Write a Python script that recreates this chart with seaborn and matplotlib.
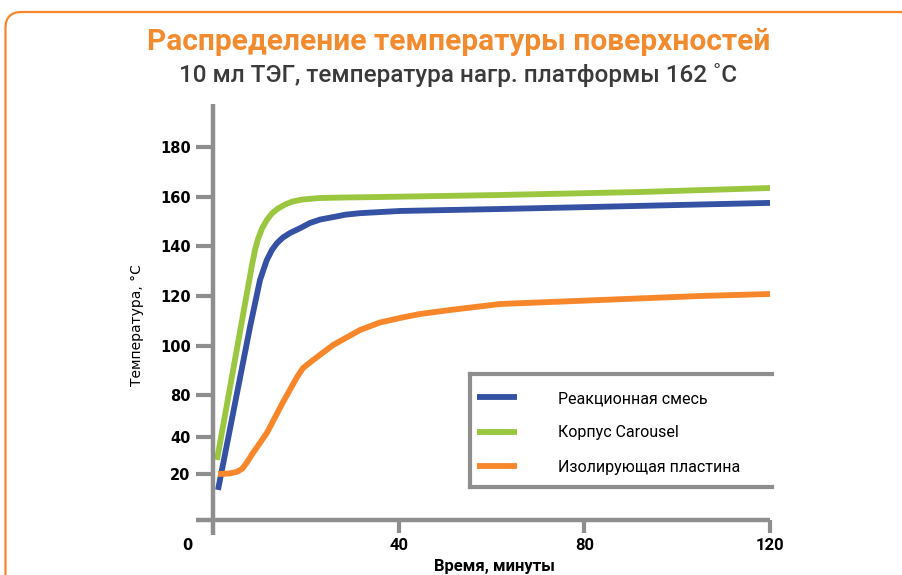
import numpy as np
import pandas as pd
import matplotlib
matplotlib.use("Agg")
import matplotlib.pyplot as plt
import seaborn as sns
from matplotlib.lines import Line2D
from matplotlib.patches import FancyBboxPatch
from matplotlib import transforms as mtransforms

# ---------------- data ----------------
title = "Распределение температуры поверхностей"
subtitle = "10 мл ТЭГ, температура нагр. платформы 162 ˚C"
x_label = "Время, минуты"
y_label = "Температура, °C"

series_names = ["Реакционная смесь", "Корпус Carousel", "Изолирующая пластина"]

blue_t = [0.97, 7.87, 10.03, 10.9, 11.5, 12.6, 13.7, 15.0, 16.5, 18.7, 20.8, 23.0, 25.8,
          28.5, 31.6, 40.2, 61.8, 83.4, 120.0]
blue_temp = [11.4, 107.6, 126.4, 131.2, 134.4, 138.4, 141.2, 143.5, 145.3, 147.3, 149.4, 150.8, 151.8,
             152.8, 153.4, 154.3, 155.1, 156.0, 157.6]

green_t = [0.75, 8.3, 8.95, 9.6, 10.5, 11.5, 12.6, 13.9, 15.4, 17.1, 19.3, 23.0, 28.4,
           35.9, 61.7, 91.9, 120.0]
green_temp = [27.6, 132.4, 138.4, 142.9, 147.3, 150.6, 153.3, 155.3, 156.9, 158.2, 159.0, 159.6, 159.8,
              160.0, 160.8, 162.0, 163.6]

orange_t = [0.97, 3.5, 5.1, 6.2, 7.2, 8.3, 11.5, 15.0, 18.0, 19.3, 21.5, 25.8, 31.6, 35.9, 40.2, 44.5,
            51.0, 61.8, 83.4, 104.9, 120.0]
orange_temp = [20.0, 20.3, 21.2, 22.9, 26.2, 30.6, 43.8, 73.3, 87.3, 91.0, 94.3, 100.4, 106.4, 109.4,
               111.2, 112.8, 114.4, 116.8, 118.4, 120.0, 120.8]

x_ticks = [0, 40, 80, 120]
x_tick_labels = ["0", "40", "80", "120"]
y_ticks = [20, 40, 80, 100, 120, 140, 160, 180]
y_tick_labels = ["20", "40", "80", "100", "120", "140", "160", "180"]

# ---------------- style ----------------
C_BLUE = "#3451A3"
C_GREEN = "#9AC73F"
C_ORANGE = "#F7872A"
C_TITLE = "#F28A2E"
C_GRAY = "#8E8E8E"
C_SUB = "#3A3A3A"

sns.set_theme(style="white")
plt.rcParams["font.family"] = ["DejaVu Sans"]

W, H = 903, 575
fig = plt.figure(figsize=(W / 100, H / 100), dpi=100)


def fx(px):
    return px / W


def fy(py):
    return 1 - py / H


# axis scale of the original graphic (non-uniform, piecewise linear)
SCALE_VALS = np.array([-1000, 20, 40, 80, 100, 120, 140, 160, 180, 1000], dtype=float)
SCALE_PX = np.array([2361, 474, 437, 395, 346, 296, 246, 197, 147, -1903], dtype=float)


def fwd(v):
    return -np.interp(v, SCALE_VALS, SCALE_PX)


def inv(t):
    return np.interp(-np.asarray(t, dtype=float), SCALE_PX[::-1], SCALE_VALS[::-1])


ax_left, ax_right, ax_top, ax_bottom = 196, 772, 104, 535
ax = fig.add_axes([fx(ax_left), fy(ax_bottom), (ax_right - ax_left) / W, (ax_bottom - ax_top) / H])
ax.set_facecolor("none")

frames = []
for name, t, v in [(series_names[1], green_t, green_temp),
                   (series_names[0], blue_t, blue_temp),
                   (series_names[2], orange_t, orange_temp)]:
    frames.append(pd.DataFrame({"t": t, "temp": v, "series": name}))
df = pd.concat(frames, ignore_index=True)

colors = {series_names[0]: C_BLUE, series_names[1]: C_GREEN, series_names[2]: C_ORANGE}
LW = 4.2
for name in [series_names[1], series_names[0], series_names[2]]:
    sns.lineplot(data=df[df["series"] == name], x="t", y="temp", color=colors[name],
                 lw=LW, estimator=None, sort=False, legend=False, ax=ax,
                 solid_capstyle="butt", solid_joinstyle="round")

ax.set_yscale("function", functions=(fwd, inv))
x0_px, x120_px = 213.5, 770.0
px_per_min = (x120_px - x0_px) / 120
ax.set_xlim((ax_left - x0_px) / px_per_min, (ax_right - x0_px) / px_per_min)
ax.set_ylim(float(inv(-ax_bottom)), float(inv(-ax_top)))
baseline = float(inv(-520))

for s in ["top", "right"]:
    ax.spines[s].set_visible(False)
for s in ["left", "bottom"]:
    ax.spines[s].set_color(C_GRAY)
    ax.spines[s].set_linewidth(3.2)
    ax.spines[s].set_capstyle("butt")
ax.spines["left"].set_position(("data", 0))
ax.spines["bottom"].set_position(("data", baseline))
ax.spines["bottom"].set_bounds(ax.get_xlim()[0], 120)

ax.set_xlabel("")
ax.set_ylabel("")
ax.set_xticks(x_ticks[1:], labels=x_tick_labels[1:])
ax.set_yticks(y_ticks, labels=y_tick_labels)
ax.tick_params(axis="y", direction="out", length=12.2, width=3.0, color=C_GRAY, pad=4.3,
               left=True, labelsize=10.5)
ax.tick_params(axis="x", direction="out", length=9.4, width=3.0, color=C_GRAY, pad=3.5,
               bottom=True, labelsize=12)
for lbl in ax.get_yticklabels():
    lbl.set_fontweight("bold")
    lbl.set_color("black")
for lbl in ax.get_xticklabels():
    lbl.set_family(["Roboto", "DejaVu Sans"])
    lbl.set_fontweight("bold")
    lbl.set_color("black")
ax.grid(False)

# origin label
fig.text(fx(187), fy(545), x_tick_labels[0], ha="center", va="center",
         fontsize=10.5, fontweight="bold", color="black")

# axis titles
fig.text(fx(137), fy(325), y_label, rotation=90, ha="center", va="center",
         fontsize=10, color="black")
fig.text(fx(494), fy(567), x_label, ha="center", va="center", fontsize=12,
         fontweight="bold", family=["Roboto", "DejaVu Sans"], color="black")

# titles
fig.text(fx(459), fy(42), title, ha="center", va="center", fontsize=21.5,
         fontweight="bold", family=["Roboto", "DejaVu Sans"], color=C_TITLE)
fig.text(fx(458), fy(75), subtitle, ha="center", va="center", fontsize=17.5,
         fontweight="medium", family=["Roboto", "DejaVu Sans"], color=C_SUB)

# legend
handles = [Line2D([], [], color=colors[n], lw=LW, solid_capstyle="butt") for n in series_names]
fs = 11.5
fs_px = fs * 100 / 72
leg = ax.legend(handles, series_names, loc="upper left",
                bbox_to_anchor=(fx(477), fy(391)), bbox_transform=fig.transFigure,
                frameon=False, handlelength=40 / fs_px,
                handletextpad=41 / fs_px, labelspacing=1.22, borderpad=0, borderaxespad=0,
                prop={"family": ["Roboto", "DejaVu Sans"], "size": fs})
for txt in leg.get_texts():
    txt.set_color("black")

# legend box (open on the right)
ident = mtransforms.IdentityTransform()
for (xa, ya, xb, yb) in [(470, 374, 772, 374), (470, 374, 470, 487), (470, 487, 772, 487)]:
    fig.add_artist(Line2D([xa, xb], [H - ya, H - yb], transform=ident, color=C_GRAY,
                          lw=3.0, solid_capstyle="projecting"))

# rounded orange frame
frame = FancyBboxPatch((5.5, -60), 912, H - 12 + 60, boxstyle="round,pad=0,rounding_size=16",
                       transform=ident, fill=False, edgecolor=C_ORANGE, lw=1.6)
fig.add_artist(frame)

fig.savefig("out.png", dpi=100)
